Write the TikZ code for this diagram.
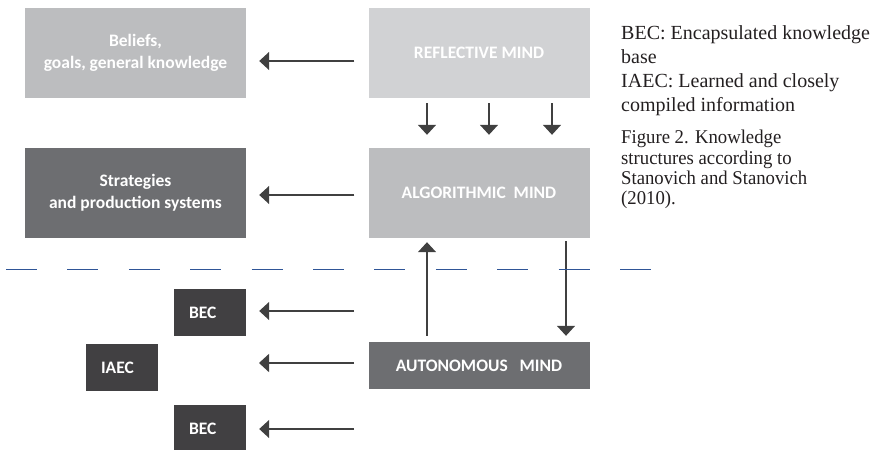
\documentclass[tikz,border=0pt]{standalone}
\usepackage{fontspec}
\setmainfont{Liberation Serif}
\newfontfamily\boxfont{Carlito}
\newfontfamily\capfont[FakeStretch=0.96]{Liberation Serif}
\usetikzlibrary{arrows.meta}

\definecolor{paleGray}{HTML}{D1D2D4}
\definecolor{midGray}{HTML}{BCBDBF}
\definecolor{darkGray}{HTML}{6D6E71}
\definecolor{deepGray}{HTML}{414042}
\definecolor{arrowGray}{HTML}{404040}
\definecolor{dashBlue}{HTML}{2F5597}
\definecolor{textBlack}{HTML}{231F20}

\tikzset{
	mindbox/.style={rectangle, inner sep=0pt, minimum width=221pt, minimum height=90pt,
		align=center, text=white, font=\boxfont\bfseries\fontsize{17.5}{22}\selectfont},
	smallbox/.style={mindbox, minimum width=72pt, minimum height=47pt, fill=deepGray,
		align=left, text width=42pt, inner xsep=15pt},
	arr/.style={draw=arrowGray, line width=1.5pt, -{Triangle[length=10pt,width=18pt]}},
	notes/.style={anchor=north west, align=left, inner sep=0pt, text=textBlack},
}

\begin{document}
\begin{tikzpicture}[x=1pt, y=-1pt]
	\useasboundingbox (0,0) rectangle (879,450);
	% boxes
	\node [mindbox, fill=midGray] (beliefs) at (135.5,53) {Beliefs,\\goals, general knowledge};
	\node [mindbox, fill=darkGray] (strat) at (135.5,193) {Strategies\\and production systems};
	\node [mindbox, fill=paleGray] (refl) at (479,53) {REFLECTIVE MIND};
	\node [mindbox, fill=midGray] (algo) at (479,193) {ALGORITHMIC\ \ MIND};
	\node [mindbox, minimum height=47pt, fill=darkGray] (auto) at (479,365.5) {AUTONOMOUS\ \ \ MIND};
	\node [smallbox] (becA) at (210,312.5) {BEC};
	\node [smallbox] (iaec) at (122,367.5) {IAEC};
	\node [smallbox] (becB) at (210,428.5) {BEC};
	% arrows
	\draw [arr, shorten <=14pt, shorten >=13pt] ([yshift=-8pt]refl.west) -- ([yshift=-8pt]beliefs.east);
	\draw [arr, shorten <=14pt, shorten >=13pt] ([yshift=-2pt]algo.west) -- ([yshift=-2pt]strat.east);
	\foreach \dx in {-52,10,73}
		\draw [arr, shorten <=5pt, shorten >=13pt] ([xshift=\dx pt]refl.south) -- ([xshift=\dx pt]algo.north);
	\draw [arr, shorten <=6pt, shorten >=4pt] ([xshift=-52pt]auto.north) -- ([xshift=-52pt]algo.south);
	\draw [arr, shorten <=3pt, shorten >=6pt] ([xshift=87pt]algo.south) -- ([xshift=87pt]auto.north);
	\coordinate (sA) at (354,311);
	\coordinate (sB) at (354,363);
	\coordinate (tB) at (259,363);
	\coordinate (sC) at (354,429);
	\draw [arr, shorten >=13pt] (sA) -- (sA -| becA.east);
	\draw [arr] (sB) -- (tB);
	\draw [arr, shorten >=13pt] (sC) -- (sC -| becB.east);
	% dashed border
	\coordinate (dl) at (6,269);
	\coordinate (dr) at (651,269);
	\draw [dashBlue, line width=1pt, dash pattern=on 31pt off 30.4pt] (dl) -- (dr);
	% legend and caption
	\node [notes, font=\fontsize{20}{24}\selectfont] (legend) at (621,25.5)
		{BEC: Encapsulated knowledge\\base\\IAEC: Learned and closely\\compiled information};
	\node [notes, font=\capfont\fontsize{19.5}{20.3}\selectfont] (caption) at (621,130)
		{Figure 2. Knowledge\\structures according to\\Stanovich and Stanovich\\(2010).};
\end{tikzpicture}
\end{document}
